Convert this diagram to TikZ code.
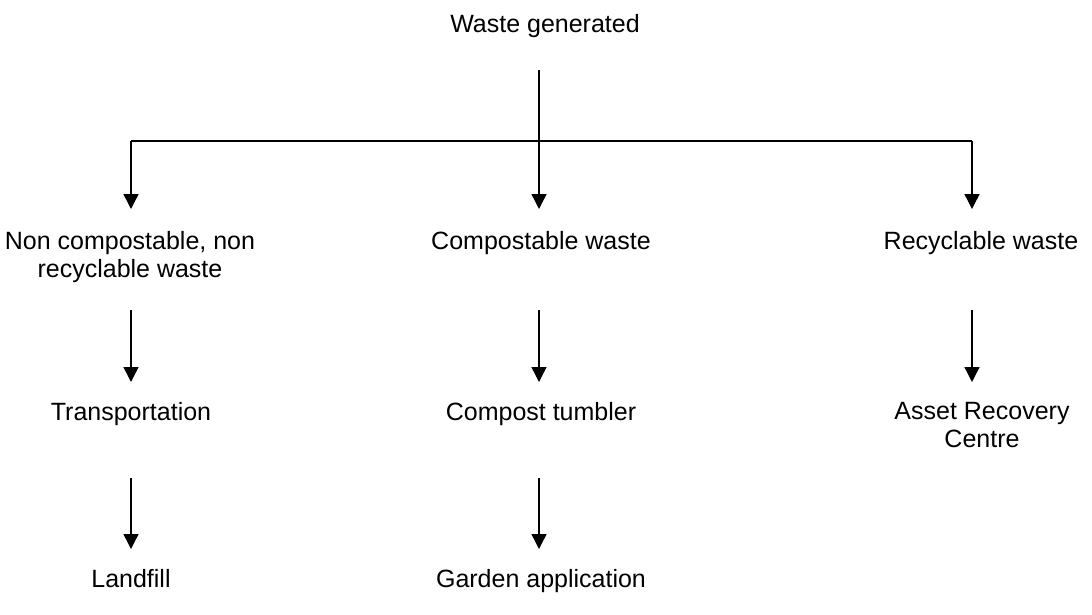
\documentclass[tikz,border=0pt]{standalone}
\usepackage{fontspec}
\setmainfont{Liberation Sans}
\usetikzlibrary{arrows.meta}
\begin{document}
\begin{tikzpicture}[x=1pt,y=-1pt,
  lbl/.style={anchor=north,inner sep=0pt,align=center,font=\fontsize{25}{28}\selectfont},
  ln/.style={line width=1.4pt},
  arr/.style={ln,-{Triangle[width=15pt,length=15pt]}}]
\useasboundingbox (0,0) rectangle (1092,614);
% texts
\node[lbl] (w)  at (545,14)  {Waste generated};
\node[lbl] (nc) at (130,231) {Non compostable, non\\recyclable waste};
\node[lbl] (cw) at (541,231) {Compostable waste};
\node[lbl] (rw) at (981,231) {Recyclable waste};
\node[lbl] (tr) at (131,402) {Transportation};
\node[lbl] (ct) at (541,402) {Compost tumbler};
\node[lbl] (ar) at (982,402) {Asset Recovery\\Centre};
\node[lbl] (lf) at (131,569) {Landfill};
\node[lbl] (ga) at (541,569) {Garden application};
% connector points
\coordinate (w0) at (539,70);
\coordinate (jm) at (539,141);
\coordinate (jl) at (131,141);
\coordinate (jr) at (972,141);
\coordinate (nct) at (131,209);
\coordinate (cwt) at (539,209);
\coordinate (rwt) at (972,209);
\coordinate (ncb) at (131,310);
\coordinate (cwb) at (539,310);
\coordinate (rwb) at (972,310);
\coordinate (trt) at (131,382);
\coordinate (ctt) at (539,382);
\coordinate (art) at (972,382);
\coordinate (trb) at (131,478);
\coordinate (ctb) at (539,478);
\coordinate (lft) at (131,549);
\coordinate (gat) at (539,549);
% connectors
\draw[ln] (w0) -- (jm);
\draw[ln] (jl) -- (jr);
\draw[arr] (jl) -- (nct);
\draw[arr] (jm) -- (cwt);
\draw[arr] (jr) -- (rwt);
\draw[arr] (ncb) -- (trt);
\draw[arr] (cwb) -- (ctt);
\draw[arr] (rwb) -- (art);
\draw[arr] (trb) -- (lft);
\draw[arr] (ctb) -- (gat);
\end{tikzpicture}
\end{document}
